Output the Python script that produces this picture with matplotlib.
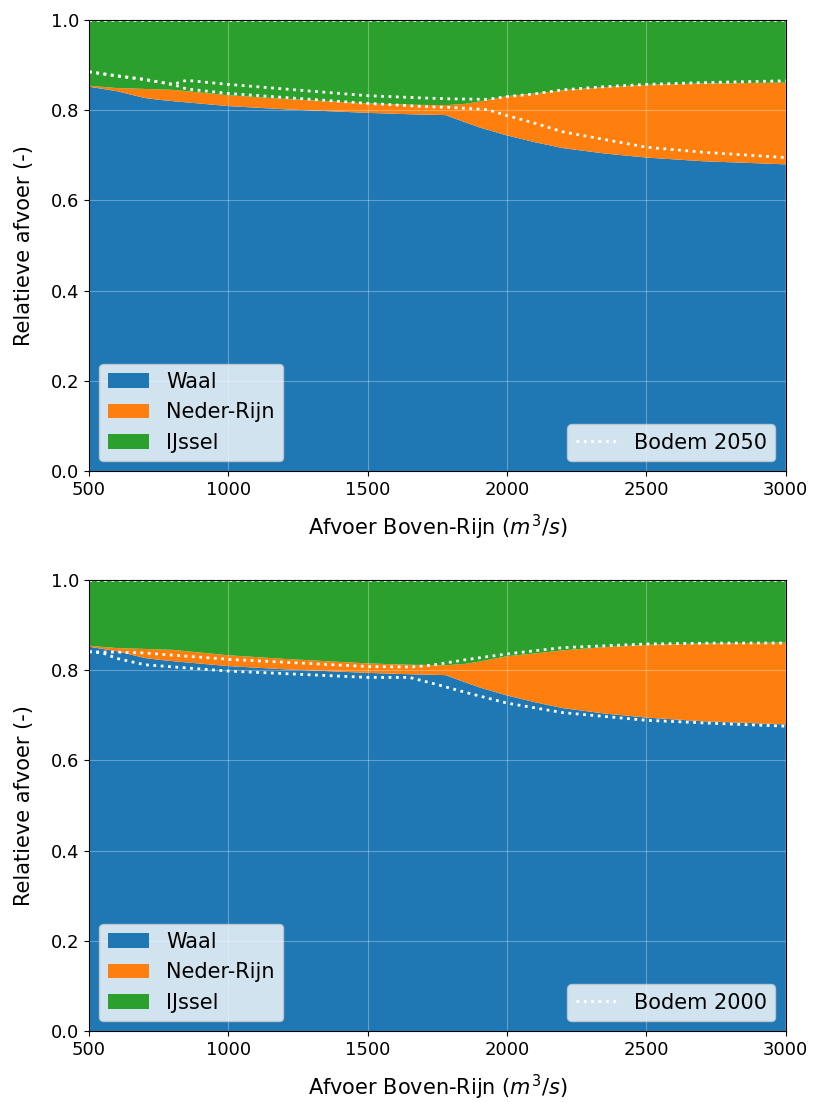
import numpy as np
import matplotlib
matplotlib.use("Agg")
import matplotlib.pyplot as plt

# afvoerverdeling (gevuld vlak), zelfde in beide panelen
q_fill = [500, 600, 700, 750, 800, 1000, 1200, 1500, 1650, 1780, 1850, 1900,
          2000, 2100, 2200, 2350, 2500, 2700, 3000]
waal = [0.852, 0.842, 0.827, 0.823, 0.820, 0.809, 0.802, 0.794, 0.791, 0.789,
        0.773, 0.762, 0.744, 0.729, 0.716, 0.704, 0.695, 0.687, 0.680]
neder_rijn = [0.002, 0.007, 0.020, 0.023, 0.025, 0.024, 0.023, 0.021, 0.021,
              0.022, 0.041, 0.057, 0.087, 0.108, 0.128, 0.147, 0.161, 0.172, 0.181]
ijssel = [1 - w - n for w, n in zip(waal, neder_rijn)]

# bodem 2050 (stippellijnen)
q_2050 = [500, 600, 700, 800, 850, 1000, 1500, 1700, 1800, 1930, 2000, 2100,
          2200, 2350, 2500, 2700, 3000]
waal_2050 = [0.885, 0.876, 0.868, 0.857, 0.847, 0.837, 0.815, 0.808, 0.806,
             0.801, 0.788, 0.771, 0.752, 0.735, 0.718, 0.707, 0.695]
nr_2050 = [0.000, 0.000, 0.000, 0.000, 0.019, 0.020, 0.017, 0.019, 0.019,
           0.023, 0.042, 0.065, 0.093, 0.117, 0.139, 0.154, 0.170]

# bodem 2000 (stippellijnen)
q_2000 = [500, 550, 600, 700, 1000, 1500, 1650, 1700, 1750, 1850, 2000, 2200,
          2500, 2750, 3000]
waal_2000 = [0.841, 0.838, 0.826, 0.812, 0.798, 0.784, 0.784, 0.776, 0.768,
             0.751, 0.727, 0.706, 0.689, 0.682, 0.676]
nr_2000 = [0.000, 0.002, 0.014, 0.026, 0.026, 0.024, 0.023, 0.033, 0.045,
           0.072, 0.109, 0.144, 0.169, 0.178, 0.184]

scenarios = [("Bodem 2050", q_2050, waal_2050, nr_2050),
             ("Bodem 2000", q_2000, waal_2000, nr_2000)]

fig, axes = plt.subplots(2, 1, figsize=(8.16, 11.02), dpi=100)
fig.subplots_adjust(left=0.109, right=0.963, top=0.982, bottom=0.064, hspace=0.24)

for ax, (label, q, w, n) in zip(axes, scenarios):
    stack = ax.stackplot(q_fill, waal, neder_rijn, ijssel,
                         labels=["Waal", "Neder-Rijn", "IJssel"])
    w = np.array(w)
    n = np.array(n)
    line, = ax.plot(q, w, ":", color="white", lw=2, label=label)
    ax.plot(q, w + n, ":", color="white", lw=2)
    ax.plot(q, np.ones(len(q)), ":", color="white", lw=2)

    ax.set_xlim(500, 3000)
    ax.set_ylim(0, 1)
    ax.grid(color="white", alpha=0.3)
    ax.set_xlabel("Afvoer Boven-Rijn ($m^3/s$)", fontsize=15, labelpad=10)
    ax.set_ylabel("Relatieve afvoer (-)", fontsize=15, labelpad=12)
    ax.tick_params(labelsize=13)

    leg1 = ax.legend(handles=stack, loc="lower left", fontsize=15)
    ax.add_artist(leg1)
    ax.legend(handles=[line], loc="lower right", fontsize=15)

plt.savefig("out.png")
